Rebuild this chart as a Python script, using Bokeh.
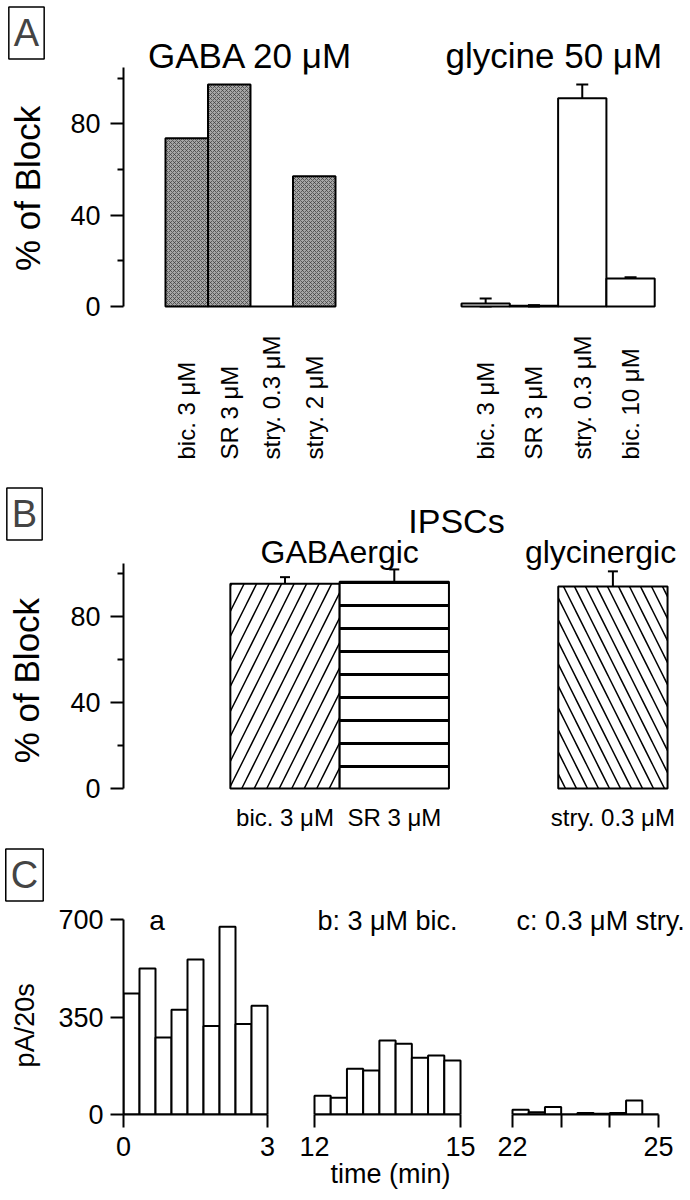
import numpy as np
from bokeh.plotting import figure
from bokeh.models import (Range1d, LinearAxis, FixedTicker, Whisker, TeeHead,
                          ColumnDataSource, Label)
from bokeh.layouts import column, row
from bokeh.embed import file_html
from bokeh.resources import INLINE
from bokeh.core.properties import value

FONT = "Liberation Sans"

# ---------------- data ----------------
# Panel A : % of block of agonist responses
gaba_labels = ["bic. 3 μM", "SR 3 μM", "stry. 0.3 μM", "stry. 2 μM"]
gaba_block = [73.7, 97.2, 0.0, 57.0]
gly_labels = ["bic. 3 μM", "SR 3 μM", "stry. 0.3 μM", "bic. 10 μM"]
gly_block = [1.3, 0.3, 91.2, 12.3]
gly_err = [2.2, 0.3, 6.0, 0.5]

# Panel B : % of block of IPSCs
ipsc_labels = ["bic. 3 μM", "SR 3 μM", "stry. 0.3 μM"]
ipsc_block = [95.2, 96.2, 94.0]
ipsc_err = [3.1, 5.7, 7.0]

# Panel C : pA per 20 s bins
bin_min = 1.0 / 3.0
a_start, b_start, c_start = 0, 12, 22
a_pa = [434, 524, 276, 376, 556, 318, 674, 325, 390]
b_pa = [67, 60, 164, 158, 266, 254, 204, 212, 194]
c_pa = [17, 8, 27, 0, 5, 3, 5, 50, 0]

LEFT_W = 52          # width of the strip holding panel letters and y titles
MAIN_BORDER = 71     # left border of the main figures (holds y tick labels)


# ---------------- helpers ----------------
def base_fig(width, height, xr, yr, left=0, bottom=0):
    p = figure(width=width, height=height, x_range=xr, y_range=yr,
               output_backend="svg", toolbar_location=None,
               x_axis_location=None, y_axis_location=None,
               min_border_left=left, min_border_right=0,
               min_border_top=0, min_border_bottom=bottom)
    p.outline_line_color = None
    p.xgrid.visible = False
    p.ygrid.visible = False
    p.background_fill_color = "white"
    p.border_fill_color = "white"
    return p


def add_y_axis(p, bounds, ticks, minor, tick_size, tick_standoff):
    ax = LinearAxis(bounds=bounds,
                    ticker=FixedTicker(ticks=ticks, minor_ticks=minor))
    ax.axis_line_width = 2
    ax.major_tick_line_width = 2
    ax.minor_tick_line_width = 2
    ax.major_tick_out = 13
    ax.major_tick_in = 0
    ax.minor_tick_out = 6
    ax.minor_tick_in = 0
    ax.major_label_text_font = FONT
    ax.major_label_text_font_size = tick_size
    ax.major_label_text_color = "black"
    ax.major_label_standoff = tick_standoff
    p.add_layout(ax, "left")


def add_x_axis(p, bounds, ticks, minor, label=None):
    ax = LinearAxis(bounds=bounds,
                    ticker=FixedTicker(ticks=ticks, minor_ticks=minor))
    ax.axis_line_width = 2
    ax.major_tick_line_width = 2
    ax.minor_tick_line_width = 2
    ax.major_tick_out = 13
    ax.major_tick_in = 0
    ax.minor_tick_out = 13
    ax.minor_tick_in = 0
    ax.major_label_text_font = FONT
    ax.major_label_text_font_size = "27px"
    ax.major_label_text_color = "black"
    ax.major_label_standoff = 9
    if label:
        ax.axis_label = label
        ax.axis_label_text_font = FONT
        ax.axis_label_text_font_style = "normal"
        ax.axis_label_text_font_size = "27px"
        ax.axis_label_text_color = "black"
        ax.axis_label_standoff = 0
    p.add_layout(ax, "below")


def texts(p, x, y, t, size, align="center", baseline="alphabetic", angle=0.0):
    p.text(x=x, y=y, text=t, angle=angle, text_align=align,
           text_baseline=baseline, text_font=value(FONT),
           text_font_size=size, text_color="black")


def left_strip(height, yr, letter, letter_x, letter_y, ytitle, ytitle_x,
               ytitle_y, ytitle_size, bottom=0):
    s = base_fig(LEFT_W, height, Range1d(0, LEFT_W), yr, bottom=bottom)
    s.add_layout(Label(x=letter_x, y=letter_y, text=letter,
                       text_font=FONT, text_font_size="38px",
                       text_align="center", text_baseline="middle",
                       border_line_color="black", border_line_width=1.5,
                       background_fill_color="white", padding=5))
    texts(s, [ytitle_x], [ytitle_y], [ytitle], ytitle_size,
          align="center", baseline="middle", angle=np.pi / 2)
    return s


# ---------------- Panel A ----------------
A_H = 478
A_YR = (-75.31, 133.97)
pa = base_fig(690 - LEFT_W, A_H, Range1d(-1.488, 11.853), Range1d(*A_YR),
              left=MAIN_BORDER)
gaba_x = np.arange(len(gaba_block), dtype=float)
GLY_LEFT, GLY_W = 6.465, 1.1365
gly_x = GLY_LEFT + GLY_W * (np.arange(len(gly_block)) + 0.5)

pa.vbar(x=gaba_x, top=gaba_block, bottom=0, width=1.0,
        fill_color="#a6a6a6", hatch_pattern="x", hatch_scale=4,
        hatch_color="#3a3a3a", hatch_weight=0.7,
        line_color="black", line_width=2)
pa.vbar(x=gly_x, top=gly_block, bottom=0, width=GLY_W,
        fill_color="white", line_color="black", line_width=2)
g_up = np.array(gly_block) + np.array(gly_err)
g_lo = np.maximum(np.array(gly_block) - np.array(gly_err), 0)
gsrc = ColumnDataSource(dict(base=gly_x, upper=g_up, lower=g_lo))
pa.add_layout(Whisker(source=gsrc, base="base", upper="upper", lower="lower",
                      line_width=2, line_color="black",
                      upper_head=TeeHead(size=12, line_width=2),
                      lower_head=TeeHead(size=12, line_width=2)))
add_y_axis(pa, (0, 104.6), [0, 40, 80], [20, 60, 100], "27px", 10)
texts(pa, gaba_x, -67, gaba_labels, "24px", align="left", baseline="middle",
      angle=np.pi / 2)
texts(pa, gly_x, -67, gly_labels, "24px", align="left", baseline="middle",
      angle=np.pi / 2)
texts(pa, [gaba_x.mean(), gly_x.mean() - 0.1], [109.9, 109.9],
      ["GABA 20 μM", "glycine 50 μM"], "35px")
sa = left_strip(A_H, Range1d(*A_YR), "A", 26, 119.7, "% of Block", 27, 51.7,
                "35px")

# ---------------- Panel B ----------------
B_H = 360
B_YR = (-23.26, 144.19)
pb = base_fig(690 - LEFT_W, B_H, Range1d(-1.4776, 3.710), Range1d(*B_YR),
              left=MAIN_BORDER)
ipsc_slot = np.array([0.0, 1.0, 3.0])
bsrc = ColumnDataSource(dict(x=ipsc_slot, top=ipsc_block,
                             hatch=["/", "-", "\\"],
                             scale=[25, 23, 22], weight=[1.5, 3, 1.5],
                             upper=np.array(ipsc_block) + np.array(ipsc_err),
                             lower=np.array(ipsc_block) - np.array(ipsc_err)))
pb.vbar(x="x", top="top", bottom=0, width=1.0, source=bsrc,
        fill_color="white", hatch_pattern="hatch", hatch_scale="scale",
        hatch_weight="weight", hatch_color="black",
        line_color="black", line_width=2)
pb.add_layout(Whisker(source=bsrc, base="x", upper="upper", lower="lower",
                      line_width=2, line_color="black",
                      upper_head=TeeHead(size=10, line_width=2),
                      lower_head=TeeHead(size=10, line_width=2)))
add_y_axis(pb, (0, 104.6), [0, 40, 80], [20, 60, 100], "27px", 10)
texts(pb, ipsc_slot, -13.5, ipsc_labels, "24px")
texts(pb, [1.569], [124.65], ["IPSCs"], "34px")
texts(pb, [ipsc_slot[:2].mean(), 2.887], [109.8, 109.8],
      ["GABAergic", "glycinergic"], "32px")
sb = left_strip(B_H, Range1d(*B_YR), "B", 24, 127.7, "% of Block", 26, 50.2,
                "35px")

# ---------------- Panel C ----------------
C_H = 362
C_BOT = 86
C_YR = (0, 990.8)
ca = base_fig(290 - LEFT_W, C_H, Range1d(0, 3.479), Range1d(*C_YR),
              left=MAIN_BORDER, bottom=C_BOT)
cb = base_fig(200, C_H, Range1d(11.507, 15.616), Range1d(*C_YR), bottom=C_BOT)
cc = base_fig(200, C_H, Range1d(21.548, 25.657), Range1d(*C_YR), bottom=C_BOT)

for p, start, vals in ((ca, a_start, a_pa), (cb, b_start, b_pa), (cc, c_start, c_pa)):
    xs = start + bin_min * (np.arange(len(vals)) + 0.5)
    p.vbar(x=xs, top=vals, bottom=0, width=bin_min,
           fill_color="white", line_color="black", line_width=2)

add_y_axis(ca, (0, 700), [0, 350, 700], [], "27px", 7)
add_x_axis(ca, (a_start, a_start + 3), [a_start, a_start + 3], [])
add_x_axis(cb, (b_start, b_start + 3), [b_start, b_start + 3], [], "time (min)")
add_x_axis(cc, (c_start, c_start + 3), [c_start, c_start + 3],
           [c_start + 1, c_start + 2])
texts(ca, [a_start + 0.7], [696], ["a"], "28px")
texts(cb, [b_start + 1.5], [696], ["b: 3 μM bic."], "27px")
texts(cc, [c_start + 1.81], [696], ["c: 0.3 μM stry."], "27px")
sc = left_strip(C_H, Range1d(*C_YR), "C", 24, 859.7, "pA/20s", 24, 320,
                "27px", bottom=C_BOT)

layout = column(row(sa, pa), row(sb, pb), row(sc, ca, cb, cc))
open("out.html", "w").write(file_html(layout, INLINE))
